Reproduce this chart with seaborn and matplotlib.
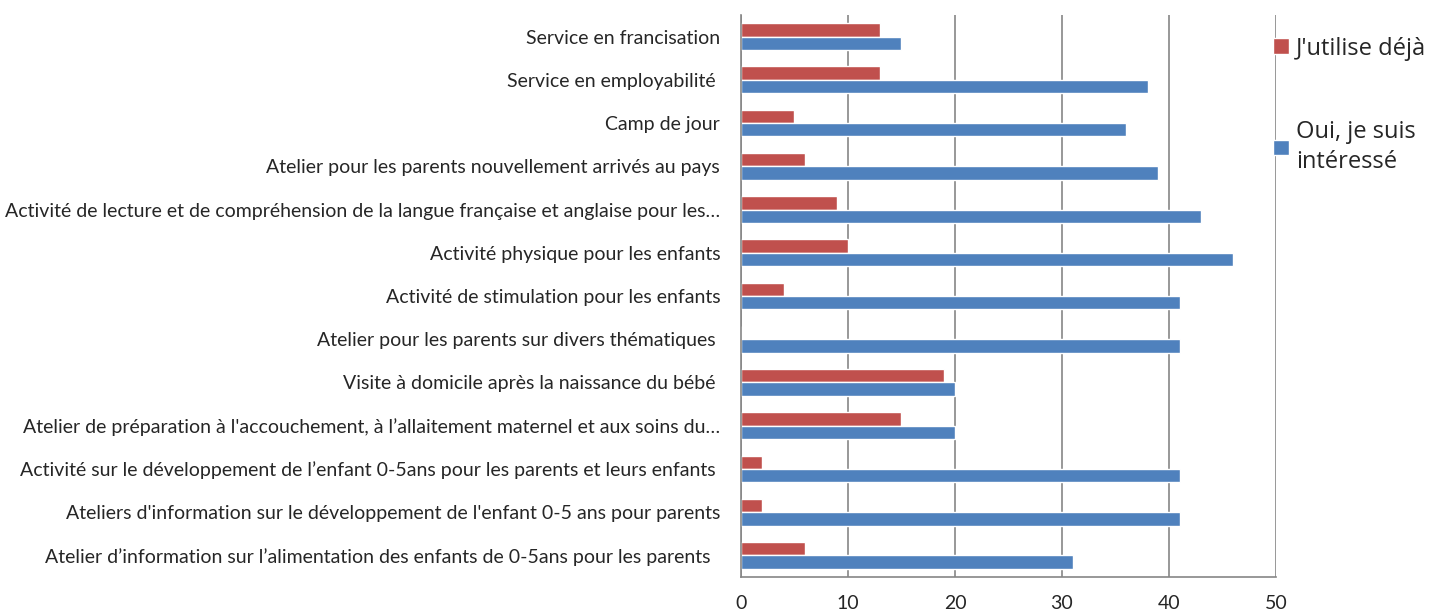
import numpy as np
import pandas as pd
import matplotlib
matplotlib.use("Agg")
import matplotlib.pyplot as plt
import seaborn as sns

categories = [
    "Service en francisation",
    "Service en employabilité ",
    "Camp de jour",
    "Atelier pour les parents nouvellement arrivés au pays",
    "Activité de lecture et de compréhension de la langue française et anglaise pour les…",
    "Activité physique pour les enfants",
    "Activité de stimulation pour les enfants",
    "Atelier pour les parents sur divers thématiques ",
    "Visite à domicile après la naissance du bébé ",
    "Atelier de préparation à l'accouchement, à l’allaitement maternel et aux soins du…",
    "Activité sur le développement de l’enfant 0-5ans pour les parents et leurs enfants ",
    "Ateliers d'information sur le développement de l'enfant 0-5 ans pour parents",
    "Atelier d’information sur l’alimentation des enfants de 0-5ans pour les parents  ",
]
deja = [13, 13, 5, 6, 9, 10, 4, 0, 19, 15, 2, 2, 6]
interesse = [15, 38, 36, 39, 43, 46, 41, 41, 20, 20, 41, 41, 31]
series = ["J'utilise déjà", "Oui, je suis intéressé"]
colors = ["#C0504D", "#4F81BD"]

df = pd.DataFrame({
    "categorie": categories * 2,
    "valeur": deja + interesse,
    "serie": [series[0]] * len(categories) + [series[1]] * len(categories),
})

sns.set_style("white")
plt.rcParams["font.family"] = ["Lato", "DejaVu Sans"]

fig = plt.figure(figsize=(14.41, 6.15), dpi=100)
ax = fig.add_axes([0.5142, 0.0618, 0.3713, 0.9138])

sns.barplot(data=df, y="categorie", x="valeur", hue="serie", order=categories,
            hue_order=series, palette=colors, orient="h", width=0.62,
            saturation=1, ax=ax, legend=True)

ax.set_xlim(0, 50)
ax.set_ylim(len(categories) - 0.5, -0.5)
ax.set_xticks(np.arange(0, 51, 10))
ax.set_xlabel("")
ax.set_ylabel("")
ax.grid(axis="x", color="#868686", linewidth=1.2)
ax.set_axisbelow(True)

for side in ["top", "right"]:
    ax.spines[side].set_visible(False)
for side in ["left", "bottom"]:
    ax.spines[side].set_color("#868686")
    ax.spines[side].set_linewidth(1.2)

ax.tick_params(axis="y", which="major", length=0, labelsize=14, pad=15)
ax.set_yticks(np.arange(-0.5, len(categories), 1), minor=True)
ax.tick_params(axis="y", which="minor", length=5, color="#868686", width=1.2, direction="out")
ax.tick_params(axis="x", length=5, color="#868686", width=1.2, labelsize=14, pad=8)

handles, labels = ax.get_legend_handles_labels()
leg = ax.legend(handles, ["J'utilise déjà", "Oui, je suis\nintéressé"],
                loc="upper left", bbox_to_anchor=(0.869, 0.975),
                bbox_transform=fig.transFigure, frameon=False,
                prop={"family": "Open Sans", "size": 17},
                handlelength=0.65, handleheight=0.65, handletextpad=0.3,
                labelspacing=2.5)
for t in leg.get_texts():
    t.set_linespacing(1.35)

fig.savefig("out.png", dpi=100)
